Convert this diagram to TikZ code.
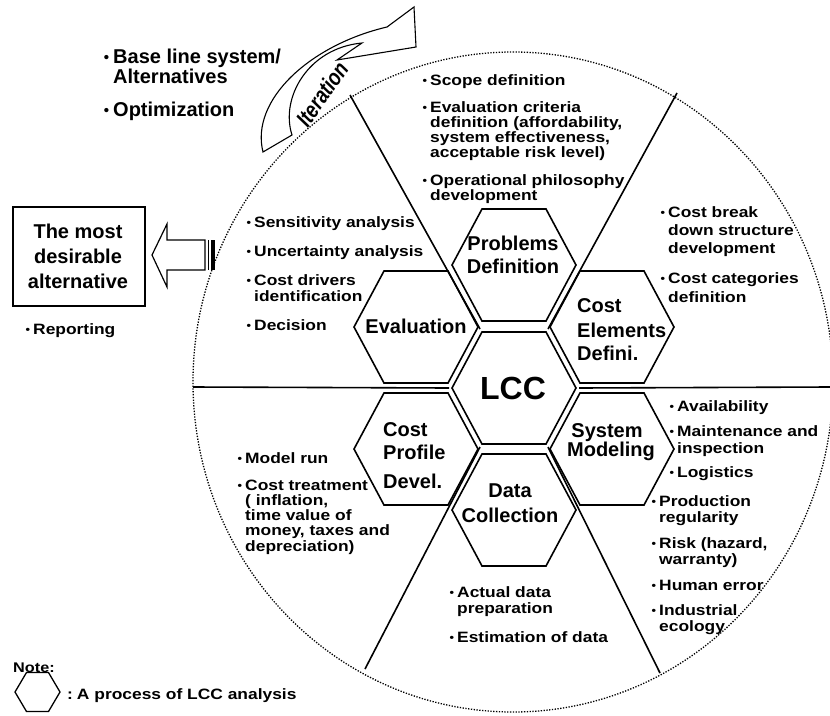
\documentclass[tikz,border=0pt]{standalone}
\usepackage{fontspec}
\setmainfont{Liberation Sans}
\newfontfamily\wf[FakeStretch=1.16]{Liberation Sans}
\newfontfamily\itf[FakeStretch=0.8]{Liberation Sans}
\newcommand\blk[2]{\vtop{\baselineskip=#1pt\lineskiplimit=-1000pt\lineskip=0pt\halign{##\hfil\cr#2\crcr}}}
\newcommand\bul{\llap{\raisebox{0.5pt}{\fontsize{11}{11}\selectfont\textbullet}\hspace{3pt}}}
\newcommand\bigbul{\llap{\raisebox{1pt}{\fontsize{15}{15}\selectfont\textbullet}\hspace{4pt}}}
\begin{document}
\begin{tikzpicture}[x=1pt,y=-1pt,
  hex/.style={line width=1.6pt, line join=miter},
  hexa/.pic={\draw[hex] (-62,0) -- (-32,-56) -- (32,-56) -- (62,0) -- (32,56) -- (-32,56) -- cycle;},
  hl/.style={font=\bfseries\fontsize{20}{20}\selectfont, inner sep=0, anchor=base},
  hlw/.style={font=\bfseries\fontsize{20}{20}\selectfont, inner sep=0, anchor=base west},
  st/.style={font=\wf\bfseries\fontsize{15}{15}\selectfont, inner sep=0, anchor=base west},
  tl/.style={font=\bfseries\fontsize{20}{20}\selectfont, inner sep=0, anchor=base west},
  ray/.style={line width=1.6pt},
  ]
\fill[white] (0,0) rectangle (830,715);
\useasboundingbox (0,0) rectangle (830,715);

% outer dotted circle
\coordinate (cC) at (513,382);
\draw[line width=1.3pt, dash pattern=on 1.3pt off 1.5pt] (cC) ellipse [x radius=320pt, y radius=330pt];

% hexagon centres
\coordinate (cLCC) at (514,388);
\coordinate (cPD) at (514,265);
\coordinate (cCE) at (612,327);
\coordinate (cEV) at (416,327);
\coordinate (cCP) at (416,449);
\coordinate (cSM) at (612,449);
\coordinate (cDC) at (514,510);

% radial lines
\coordinate (pTL) at (350,95);
\coordinate (pTR) at (677,93);
\coordinate (pBL) at (365,669);
\coordinate (pBR) at (660,673);
\coordinate (pL) at (193,387);
\coordinate (pR) at (830,387);
\coordinate (jL) at (449,388);
\coordinate (jR) at (579,388);
\coordinate (jUL) at (480,329);
\coordinate (jUR) at (548,329);
\coordinate (jLL) at (480,447);
\coordinate (jLR) at (548,447);
\draw[ray] (pTL) -- (jUL);
\draw[ray] (pTR) -- (jUR);
\draw[ray] (pBL) -- (jLL);
\draw[ray] (pBR) -- (jLR);
\draw[ray] (pL) -- (jL);
\draw[ray] (pR) -- (jR);

% hexagons
\foreach \c in {cLCC,cPD,cCE,cEV,cCP,cSM,cDC} \pic at (\c) {hexa};

% hexagon labels
\node[hl] (lPD1) at (513,250) {Problems};
\node[hl] (lPD2) at (513,273) {Definition};
\node[hlw] (lCE1) at (577,312) {Cost};
\node[hlw] (lCE2) at (577,337) {Elements};
\node[hlw] (lCE3) at (577,360) {Defini.};
\node[hl] (lEV) at (416,333) {Evaluation};
\node[hl, font=\bfseries\fontsize{32}{32}\selectfont] (lLCC) at (513,399) {LCC};
\node[hlw] (lCP1) at (383,436) {Cost};
\node[hlw] (lCP2) at (383,459) {Profile};
\node[hlw] (lCP3) at (383,488) {Devel.};
\node[hl] (lDC1) at (510,497) {Data};
\node[hl] (lDC2) at (510,522) {Collection};
\node[hl] (lSM1) at (607,437) {System};
\node[hl] (lSM2) at (611,456) {Modeling};

% top sector
\node[st] (s1) at (430,85) {\bul Scope definition};
\node[st] (s2) at (430,112) {\bul\blk{15}{Evaluation criteria\cr definition (affordability,\cr system effectiveness,\cr acceptable risk level)}};
\node[st] (s3) at (430,185) {\bul\blk{15}{Operational philosophy\cr development}};

% evaluation sector
\node[st] (e1) at (254,227) {\bul Sensitivity analysis};
\node[st] (e2) at (254,256) {\bul Uncertainty analysis};
\node[st] (e3) at (254,285) {\bul\blk{16}{Cost drivers\cr identification}};
\node[st] (e4) at (254,330) {\bul Decision};

% cost elements sector
\node[st] (c1) at (668,217) {\bul\blk{18}{Cost break\cr down structure\cr development}};
\node[st] (c2) at (668,283) {\bul\blk{19}{Cost categories\cr definition}};

% system modeling sector
\node[st] (m1) at (677,411) {\bul Availability};
\node[st] (m2) at (677,436) {\bul\blk{17}{Maintenance and\cr inspection}};
\node[st] (m3) at (677,477) {\bul Logistics};
\node[st] (m4) at (659,506) {\bul\blk{16}{Production\cr regularity}};
\node[st] (m5) at (659,548) {\bul\blk{16}{Risk (hazard,\cr warranty)}};
\node[st] (m6) at (659,590) {\bul Human error};
\node[st] (m7) at (659,615) {\bul\blk{16}{Industrial\cr ecology}};

% cost profile sector
\node[st] (p1) at (245,463) {\bul Model run};
\node[st] (p2) at (245,490) {\bul\blk{15.3}{Cost treatment\cr ( inflation,\cr time value of\cr money, taxes and\cr depreciation)}};

% data collection sector
\node[st] (d1) at (457,597) {\bul\blk{16}{Actual data\cr preparation}};
\node[st] (d2) at (457,642) {\bul Estimation of data};

% top-left texts
\node[tl] (t1) at (113,63) {\bigbul Base line system/};
\node[tl] (t2) at (113,83) {Alternatives};
\node[tl] (t3) at (113,116) {\bigbul Optimization};

% iteration arrow
\draw[line width=1.1pt, line join=miter, fill=white]
  (263,152) .. controls (250,100) and (310,45) .. (387,27)
  -- (414,7) -- (416,47) -- (337,60) -- (362,43)
  .. controls (308,48) and (280,98) .. (292,135) -- cycle;
\node[font=\itf\bfseries\itshape\fontsize{23}{23}\selectfont, rotate=55, inner sep=0] (it) at (322,94) {Iteration};

% result box and arrow
\node[draw, line width=1.5pt, inner sep=0, minimum width=132pt, minimum height=99pt, anchor=north west] (box) at (12,206) {};
\node[hl] (b1) at (78,238) {The most};
\node[hl] (b2) at (78,263) {desirable};
\node[hl] (b3) at (78,288) {alternative};
\coordinate (aT) at (152,255);
\draw[line width=1.2pt, line join=miter] (205,240) -- (167,240) -- (167,224) -- (aT) -- (167,287) -- (167,270) -- (205,270) -- cycle;
\draw[line width=1pt] (208,240) -- (208,270);
\fill (210.5,240) rectangle (215,270);
\node[st] (rep) at (33,334) {\bul Reporting};

% note
\node[st, font=\wf\bfseries\fontsize{14}{14}\selectfont] (note) at (13,672) {Note:};
\draw[line width=1.3pt, line join=miter, shift={(37.5,692)}] (-22.5,0) -- (-11,-19.5) -- (11,-19.5) -- (22.5,0) -- (11,19.5) -- (-11,19.5) -- cycle;
\node[st] (legend) at (67,699) {:\hspace{4pt}A process of LCC analysis};
\end{tikzpicture}
\end{document}
